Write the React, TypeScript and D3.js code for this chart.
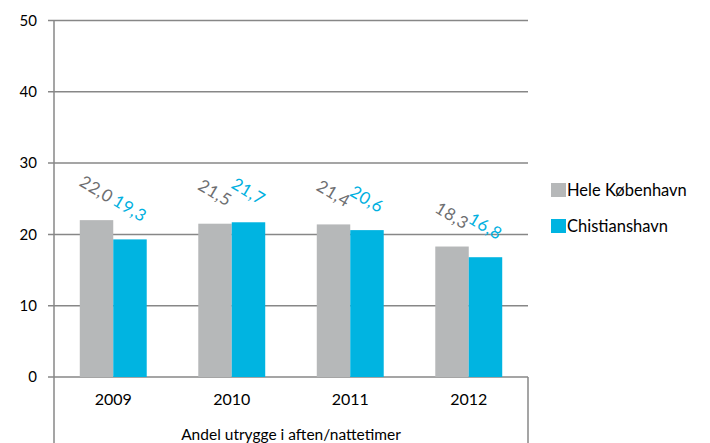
import { useEffect, useRef } from "react";
import * as d3 from "d3";

const years = ["2009", "2010", "2011", "2012"];
const seriesNames = ["Hele København", "Chistianshavn"];
const heleKbh = [22.0, 21.5, 21.4, 18.3];
const christianshavn = [19.3, 21.7, 20.6, 16.8];
const yTicks = [0, 10, 20, 30, 40, 50];
const colors = ["#b6b8b9", "#00b4e1"];
const labelColors = ["#6d6e70", "#00b0e0"];
const axisTitle = "Andel utrygge i aften/nattetimer";

const App: React.FC = () => {
  const svgRef = useRef<SVGSVGElement | null>(null);

  useEffect(() => {
    if (!svgRef.current) return;
    const svg = d3.select(svgRef.current);
    svg.selectAll("*").remove();

    const font = "Lato, 'Open Sans', sans-serif";
    const left = 54;
    const right = 528;
    const top = 20.5;
    const bottom = 377;

    const x0 = d3.scaleBand().domain(years).range([left, right]).padding(0);
    const x1 = d3
      .scaleBand()
      .domain(seriesNames)
      .range([0, x0.bandwidth()])
      .paddingInner(0)
      .paddingOuter(0.77);
    const y = d3.scaleLinear().domain([0, 50]).range([bottom, top]);

    const values = [heleKbh, christianshavn];

    // grid lines
    svg
      .append("g")
      .selectAll("line")
      .data(yTicks)
      .enter()
      .append("line")
      .attr("x1", left - 6)
      .attr("x2", right)
      .attr("y1", (d) => y(d))
      .attr("y2", (d) => y(d))
      .attr("stroke", "#878787")
      .attr("stroke-width", 1.5);

    // y tick labels
    svg
      .append("g")
      .selectAll("text")
      .data(yTicks)
      .enter()
      .append("text")
      .attr("x", 37)
      .attr("y", (d) => y(d))
      .attr("dy", "0.35em")
      .attr("text-anchor", "end")
      .attr("font-family", font)
      .attr("font-size", 15)
      .attr("fill", "#000")
      .text((d) => d);

    // bars
    seriesNames.forEach((s, si) => {
      const g = svg.append("g");
      g.selectAll("rect")
        .data(years)
        .enter()
        .append("rect")
        .attr("x", (d) => (x0(d) ?? 0) + (x1(s) ?? 0))
        .attr("y", (_d, i) => y(values[si][i]))
        .attr("width", x1.bandwidth())
        .attr("height", (_d, i) => bottom - y(values[si][i]))
        .attr("fill", colors[si]);

      g.selectAll("text")
        .data(years)
        .enter()
        .append("text")
        .attr("transform", (d, i) => {
          const cx = (x0(d) ?? 0) + (x1(s) ?? 0) + x1.bandwidth() / 2;
          const cy = y(values[si][i]) - 31;
          return `translate(${cx},${cy}) rotate(31)`;
        })
        .attr("text-anchor", "middle")
        .attr("dy", "0.35em")
        .attr("font-family", font)
        .attr("font-size", 17)
        .attr("letter-spacing", 0.5)
        .attr("fill", labelColors[si])
        .text((_d, i) => values[si][i].toFixed(1).replace(".", ","));
    });

    // axes lines
    svg
      .append("line")
      .attr("x1", left)
      .attr("x2", left)
      .attr("y1", top)
      .attr("y2", 443)
      .attr("stroke", "#878787")
      .attr("stroke-width", 1.5);
    svg
      .append("line")
      .attr("x1", right)
      .attr("x2", right)
      .attr("y1", bottom)
      .attr("y2", 443)
      .attr("stroke", "#878787")
      .attr("stroke-width", 1.5);

    // x labels
    svg
      .append("g")
      .selectAll("text")
      .data(years)
      .enter()
      .append("text")
      .attr("x", (d) => (x0(d) ?? 0) + x0.bandwidth() / 2)
      .attr("y", 405)
      .attr("text-anchor", "middle")
      .attr("font-family", font)
      .attr("font-size", 16)
      .attr("fill", "#000")
      .text((d) => d);

    svg
      .append("text")
      .attr("x", (left + right) / 2)
      .attr("y", 440)
      .attr("text-anchor", "middle")
      .attr("font-family", font)
      .attr("font-size", 15.5)
      .attr("fill", "#000")
      .text(axisTitle);

    // legend
    const legend = svg
      .append("g")
      .selectAll("g")
      .data(seriesNames)
      .enter()
      .append("g")
      .attr("transform", (_d, i) => `translate(551,${183 + i * 36})`);
    legend
      .append("rect")
      .attr("width", 15)
      .attr("height", 14)
      .attr("fill", (_d, i) => colors[i]);
    legend
      .append("text")
      .attr("x", 16)
      .attr("y", 13)
      .attr("font-family", font)
      .attr("font-size", 16.5)
      .attr("fill", "#000")
      .text((d) => d);
  }, []);

  return (
    <svg
      ref={svgRef}
      width={710}
      height={443}
      style={{ position: "absolute", left: 0, top: 0, background: "#fff" }}
    ></svg>
  );
};

export default App;
